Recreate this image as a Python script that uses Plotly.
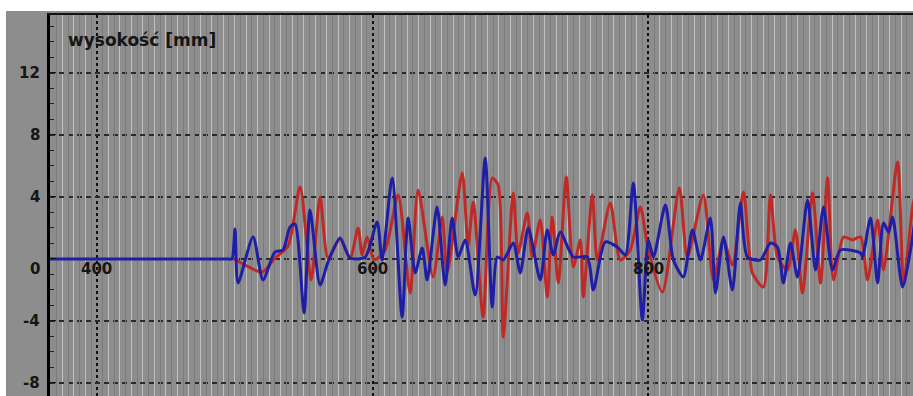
import plotly.graph_objects as go

# Profile height traces (position, height in mm)
red_x = [498.7, 507.4, 519.8, 529.2, 538.7, 547.4, 555.4, 561.9, 567.7, 576.4,
         583.7, 589.5, 592.4, 596.0, 601.1, 609.1, 618.5, 627.2, 633.0, 643.9,
         650.5, 654.1, 665.0, 669.3, 673.0, 680.2, 686.8, 691.1, 694.8, 702.0,
         705.6, 712.2, 715.8, 721.6, 726.7, 730.3, 734.7, 740.5, 745.6, 750.7,
         752.8, 759.4, 763.0, 772.4, 779.7, 786.9, 794.2, 800.0, 810.2, 822.5,
         828.3, 839.9, 847.2, 854.5, 861.0, 869.0, 875.5, 883.5, 888.6, 893.7,
         900.9, 906.7, 911.8, 919.1, 924.9, 930.0, 934.3, 941.6, 948.1, 954.0,
         959.0, 966.3, 970.6, 980.8, 985.2, 991.7, 994.6]
red_y = [0.06, -0.39, -0.84, 0.06, 0.84, 4.65, -1.35, 4.00, 0.06, 1.29,
         0.06, 2.00, 0.26, 1.42, -0.06, 0.58, 4.13, -2.19, 4.45, -1.16,
         2.71, -0.90, 5.55, 0.90, 3.68, -3.74, 5.23, 4.77, -5.03, 4.26,
         0.39, 2.97, 0.13, 2.52, -2.45, 2.71, -1.55, 5.29, -0.52, 1.23,
         -2.45, 4.13, -0.06, 3.61, -0.06, 0.58, 3.35, 0.58, -2.13, 4.58,
         0.13, 4.13, -1.35, 1.23, -0.39, 4.32, -0.90, -1.81, 4.13, 0.13,
         -0.71, 1.87, -2.19, 4.26, -1.55, 5.23, -1.35, 1.42, 1.23, 1.42,
         -1.35, 2.52, -0.71, 6.26, -1.55, 3.35, 4.45]

blue_x = [366.0, 380.0, 490.0, 496.0, 498.0, 500.2, 502.4, 513.3, 520.5, 529.2,
          535.0, 540.1, 543.7, 550.3, 554.6, 561.9, 567.7, 576.4, 583.7, 594.6,
          603.3, 606.9, 614.2, 621.4, 625.8, 630.9, 636.0, 639.6, 646.8, 652.6,
          657.7, 662.1, 667.2, 674.4, 681.7, 686.8, 690.4, 694.8, 702.0, 707.1,
          712.9, 721.6, 726.7, 731.1, 736.1, 745.6, 755.7, 760.1, 768.8, 777.5,
          783.3, 789.1, 795.7, 800.0, 803.7, 812.4, 818.2, 825.4, 832.0, 837.8,
          845.0, 848.7, 854.5, 861.0, 866.8, 871.9, 881.3, 888.6, 893.7, 898.0,
          903.1, 908.2, 915.5, 921.3, 927.1, 933.6, 939.4, 954.0, 955.4, 961.2,
          966.3, 970.6, 974.3, 977.2, 984.4, 990.2, 993.1]
blue_y = [0.0, 0.0, 0.0, 0.0, 0.0, 1.94, -1.55, 1.42, -1.35, 0.45,
          0.58, 2.06, 2.26, -3.48, 3.16, -1.68, -0.19, 1.35, 0.06, 0.13,
          2.39, -0.06, 5.23, -3.74, 2.65, -0.90, 0.71, -1.35, 3.35, -1.68,
          2.65, 0.13, 1.23, -2.32, 6.52, -3.10, 0.13, -0.06, 1.03, -0.90,
          2.00, -1.35, 1.87, 0.26, 1.74, 0.13, 0.13, -2.00, 1.10, 0.77,
          0.26, 4.90, -3.94, 1.23, 0.13, 3.48, -0.06, -1.16, 1.87, -0.06,
          2.65, -2.19, 1.42, -2.00, 3.61, 0.13, -0.06, 1.03, 0.77, -1.55,
          1.03, -1.16, 3.81, -0.71, 3.35, -0.71, 0.58, 0.39, 0.13, 2.65,
          -1.55, 2.32, 1.74, 2.71, -1.81, 0.58, 2.32]

x_ticks = [400, 600, 800, 1000]
y_ticks = [12, 8, 4, 0, -4, -8]
y_title = "wysokość [mm]"

X_RANGE = [366, 992]
Y_RANGE = [-8.84, 15.74]

BG = "#8d8d8d"
TXT = dict(family="DejaVu Sans", size=15, color="#151515", weight="bold")

fig = go.Figure()

fig.add_trace(go.Scatter(x=red_x, y=red_y, mode="lines",
                         line=dict(color="#bf2a26", width=3, shape="spline",
                                   smoothing=0.7),
                         hoverinfo="skip"))
fig.add_trace(go.Scatter(x=blue_x, y=blue_y, mode="lines",
                         line=dict(color="#1e1ea6", width=3, shape="spline",
                                   smoothing=0.7),
                         hoverinfo="skip"))
# empty trace so the secondary grid axis is drawn
fig.add_trace(go.Scatter(x=[X_RANGE[0]], y=[0], xaxis="x2", mode="markers",
                         marker=dict(opacity=0), hoverinfo="skip"))

annotations = []
for v in x_ticks:
    annotations.append(dict(x=v, y=-0.65, xref="x", yref="y", text=str(v),
                            showarrow=False, xanchor="center", yanchor="middle",
                            font=TXT))
for v in y_ticks:
    yy = -0.65 if v == 0 else v
    annotations.append(dict(x=-0.009, y=yy, xref="paper", yref="y", text=str(v),
                            showarrow=False, xanchor="right", yanchor="middle",
                            font=TXT))
annotations.append(dict(x=0.019, y=0.934, xref="paper", yref="paper", text=y_title,
                        showarrow=False, xanchor="left", yanchor="middle",
                        font=dict(family="DejaVu Sans", size=17, color="#151515",
                                  weight="bold")))

fig.update_layout(
    width=913, height=396,
    margin=dict(l=50, r=0, t=15, b=0, autoexpand=False),
    paper_bgcolor="white",
    plot_bgcolor=BG,
    showlegend=False,
    annotations=annotations,
    shapes=[dict(type="rect", xref="paper", yref="paper",
                 x0=-0.051, x1=1.01, y0=-0.01, y1=1.0105,
                 fillcolor=BG, line=dict(width=0), layer="below")],
    xaxis=dict(range=X_RANGE, side="top", showline=True, linecolor="#111",
               linewidth=2, mirror=False, showticklabels=False, ticks="",
               tick0=0, dtick=200, showgrid=True, gridcolor="#101010",
               gridwidth=1.5, griddash="dot", zeroline=False,
               minor=dict(dtick=200 / 24, tick0=0, showgrid=True,
                          gridcolor="#c0c0c0", gridwidth=1.2, griddash="solid",
                          ticks="")),
    xaxis2=dict(range=X_RANGE, overlaying="x", side="bottom", showline=False,
                showticklabels=False, ticks="", tick0=100 / 24, dtick=200 / 24,
                showgrid=True, gridcolor="#7b7b7b", gridwidth=1, zeroline=False),
    yaxis=dict(range=Y_RANGE, showline=True, linecolor="#000", linewidth=3,
               showticklabels=False, ticks="inside", ticklen=6, tickcolor="#111",
               tick0=0, dtick=4, showgrid=True, gridcolor="#2a2a2a",
               gridwidth=1.5, griddash="5px,4px", zeroline=False,
               minor=dict(dtick=1, ticks="inside", ticklen=4,
                          tickcolor="#222", showgrid=False)),
)

fig.write_html("out.html")
